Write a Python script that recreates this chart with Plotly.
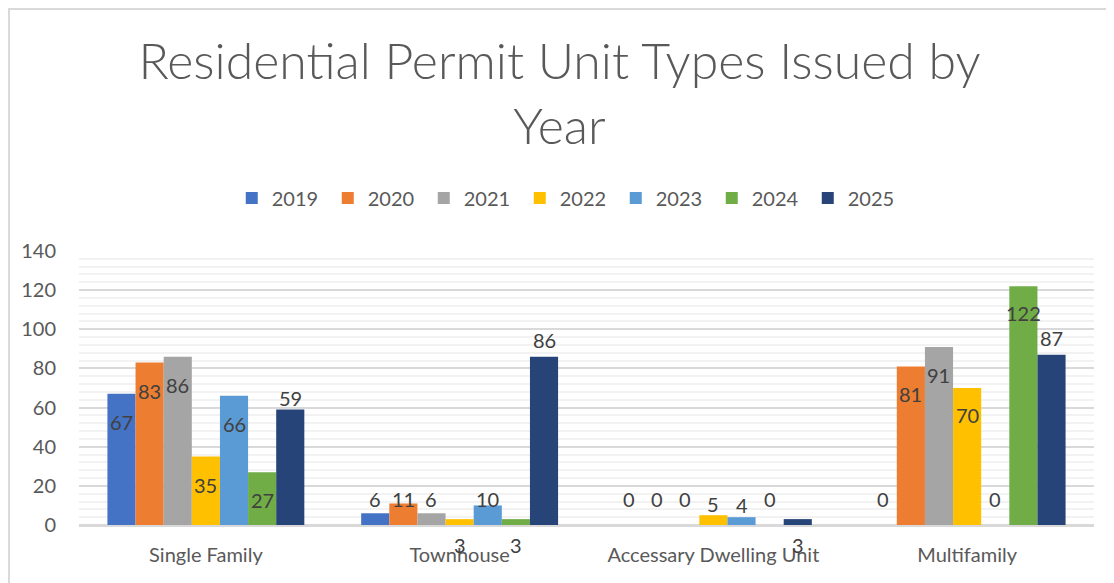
import plotly.graph_objects as go

categories = ["Single Family", "Townhouse", "Accessary Dwelling Unit", "Multifamily"]
years = ["2019", "2020", "2021", "2022", "2023", "2024", "2025"]
v2019 = [67, 6, 0, 0]
v2020 = [83, 11, 0, 81]
v2021 = [86, 6, 0, 91]
v2022 = [35, 3, 5, 70]
v2023 = [66, 10, 4, 0]
v2024 = [27, 3, 0, 122]
v2025 = [59, 86, 3, 87]
series = [v2019, v2020, v2021, v2022, v2023, v2024, v2025]

colors = ["#4472C4", "#ED7D31", "#A5A5A5", "#FFC000", "#5B9BD5", "#70AD47", "#264478"]
# label vertical shift (px) relative to bar top, per category then per year
label_shift = [
    [-28, -28, -28, -28, -28, -28, 12],
    [14, 4, 14, -26, 6, -26, 17],
    [26, 26, 26, 11, 12, 26, -26],
    [26, -28, -28, -27, 26, -27, 17],
]

W, H = 1114, 583
L, R, T, B = 71, 27.5, 243, 66
BARGAP = 0.224
pw = W - L - R
ph = H - T - B
bw = pw / len(categories) * (1 - BARGAP) / len(years)

FONT = "Lato"
fig = go.Figure()
for i, (yr, vals) in enumerate(zip(years, series)):
    fig.add_trace(go.Bar(name=yr, x=categories, y=vals, marker_color=colors[i],
                         marker_line_width=0))

annotations = []
for i, vals in enumerate(series):
    for j, cat in enumerate(categories):
        annotations.append(dict(
            x=cat, y=vals[j], xref="x", yref="y", text=str(vals[j]), showarrow=False,
            xshift=(i - (len(years) - 1) / 2) * bw, yshift=label_shift[j][i],
            yanchor="middle", xanchor="center",
            font=dict(family=FONT, size=20, color="#404040")))

fig.update_layout(
    width=W, height=H,
    margin=dict(l=L, r=R, t=T, b=B),
    paper_bgcolor="white", plot_bgcolor="white",
    barmode="group", bargap=BARGAP, bargroupgap=0,
    title=dict(text="Residential Permit Unit Types Issued by<br>Year",
               x=551.5 / W, xanchor="center", y=1 - 71 / H, yanchor="middle",
               font=dict(family=FONT, size=50, color="#595959", weight=300)),
    legend=dict(orientation="h", x=(560 - L) / pw, xanchor="center",
                y=(ph - (190 - T)) / ph, yanchor="middle",
                font=dict(family=FONT, size=20, color="#595959"),
                itemclick=False, entrywidth=51, entrywidthmode="pixels"),
    annotations=annotations,
    shapes=[dict(type="rect", xref="paper", yref="paper",
                 x0=(1 - L) / pw, x1=(W + 20 - L) / pw,
                 y0=-(B + 20) / ph, y1=(H - 1 - B) / ph,
                 line=dict(color="#d9d9d9", width=2), layer="below")],
    showlegend=True,
)
fig.update_xaxes(showgrid=False, showline=True, linecolor="#d9d9d9", linewidth=2,
                 ticks="", tickfont=dict(family=FONT, size=20, color="#595959"),
                 ticklabelstandoff=11)
fig.update_yaxes(range=[0, 140], dtick=20, showgrid=True, gridcolor="#d9d9d9", gridwidth=2,
                 zeroline=True, zerolinecolor="#d9d9d9", zerolinewidth=2,
                 minor=dict(dtick=4, showgrid=True, gridcolor="#f2f2f2", gridwidth=2),
                 ticks="", tickfont=dict(family=FONT, size=20, color="#595959"),
                 ticklabelstandoff=22)

fig.write_html("out.html")
